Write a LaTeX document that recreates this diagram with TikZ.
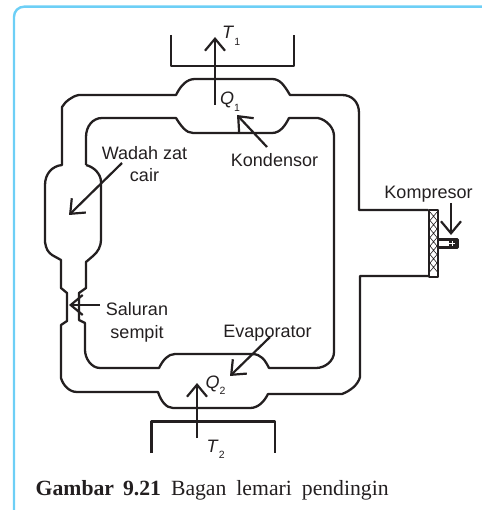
\documentclass[tikz,border=0pt]{standalone}
\usepackage{fontspec}
\setmainfont{Liberation Serif}
\setsansfont{Liberation Sans}
\usetikzlibrary{arrows.meta}
\definecolor{inkdark}{HTML}{231F20}
\definecolor{framecyan}{HTML}{6DCFF6}
\newcommand{\symsub}[2]{\textit{#1}\raisebox{-6.5pt}{\fontsize{10.5}{10.5}\selectfont #2}}
\tikzset{
  pipe/.style={draw=inkdark, line width=2.3pt, line join=round},
  flow/.style={draw=inkdark, line width=2.2pt, -{Straight Barb[length=12pt,width=20pt,line width=2.2pt]}},
  lbl/.style={anchor=base, inner sep=0pt, text=inkdark, align=center,
    font=\sffamily\fontsize{18}{22.5}\selectfont},
}
\begin{document}
\begin{tikzpicture}[x=1pt,y=-1pt]
    \useasboundingbox (0,0) rectangle (481,510);
    \draw[framecyan, line width=2.4pt, rounded corners=10pt] (14,512) -- (14,6.7) -- (483,6.7);

    % trays
    \draw[pipe] (171,35) -- (171,66) -- (294,66) -- (294,35);
    \draw[pipe] (151.5,453) -- (151.5,421.5) -- (275,421.5) -- (275,453);

    % outer wall
    \draw[pipe] (428,210) -- (359,210) -- (359,113) .. controls (359,102) and (352,95) .. (342,95)
      -- (290,95) .. controls (284,85) and (280,79) .. (272,79) -- (195,79)
      .. controls (187,79) and (181,85) .. (176,95) -- (79,95) .. controls (72,96) and (65,102) .. (62,107) -- (62,165)
      .. controls (52,166) and (45,174) .. (45,185) -- (45,242) .. controls (46,249) and (48,252) .. (52,255)
      -- (61,260) -- (61,288) -- (67,293) -- (67,321) -- (61,325) -- (61,378)
      .. controls (63,385) and (69,392) .. (77,392) -- (158,392)
      .. controls (161,401) and (166,408) .. (173,408) -- (250,408)
      .. controls (258,408) and (264,402) .. (268,394) -- (342,394) .. controls (350,391) and (358,385) .. (360,377) -- (360,276) -- (428,276);

    % inner wall
    \draw[pipe] (86,165) -- (86,137) .. controls (86,126) and (93,118) .. (102,118) -- (176,118)
      .. controls (181,126) and (186,133) .. (193,133) -- (272,133)
      .. controls (280,133) and (285,126) .. (289,118) -- (318,118)
      .. controls (327,120) and (334,128) .. (334,136) -- (334,352)
      .. controls (334,361) and (325,368) .. (316,368) -- (269,368)
      .. controls (265,360) and (261,354) .. (252,354) -- (175,354)
      .. controls (168,354) and (163,360) .. (159,368) -- (100,368)
      .. controls (91,368) and (85,358) .. (85,350) -- (85,323) -- (79,320) -- (79,293) -- (86,288) -- (86,262)
      -- (93,256) .. controls (98,252) and (101,246) .. (101,240) -- (101,182)
      .. controls (101,174) and (94,167) .. (86,165);

    % compressor
    \draw[pipe] (429,210) rectangle (438,277);
    \foreach \ycell in {212,220.5,...,270} {
      \draw[inkdark, line width=0.6pt] (430,\ycell) -- (437,\ycell+8.5) (437,\ycell) -- (430,\ycell+8.5);
    }
    \draw[pipe] (438,239.5) rectangle (457.5,247.5);
    \fill[inkdark] (449,240) rectangle (457.5,247);
    \draw[white, line width=0.9pt] (449,243.5) -- (455,243.5) (452,241) -- (452,246);

    % free ends of the arrows
    \coordinate (t1start) at (215,105);
    \coordinate (t1tip) at (215,37);
    \coordinate (kondstart) at (267,147);
    \coordinate (kondtip) at (237,115);
    \coordinate (wadahstart) at (122,163);
    \coordinate (wadahtip) at (69,215);
    \coordinate (salstart) at (100,305);
    \coordinate (saltip) at (69,305);
    \coordinate (kompstart) at (451,203);
    \coordinate (komptip) at (451,235);
    \coordinate (evapstart) at (270,337);
    \coordinate (evaptip) at (230,376);
    \coordinate (t2start) at (197,438);
    \coordinate (t2tip) at (197,383);

    \draw[flow] (t1start) -- (t1tip);
    \draw[flow] (kondstart) -- (kondtip);
    \draw[flow] (wadahstart) -- (wadahtip);
    \draw[flow] (salstart) -- (saltip);
    \draw[flow] (kompstart) -- (komptip);
    \draw[flow] (evapstart) -- (evaptip);
    \draw[flow] (t2start) -- (t2tip);

    % labels
    \node[lbl] (wadah) at (144.5,182) {Wadah zat\\cair};
    \node[lbl] (kondensor) at (274.5,167) {Kondensor};
    \node[lbl] (kompresor) at (428.5,199) {Kompresor};
    \node[lbl] (saluran) at (137,338) {Saluran\\sempit};
    \node[lbl] (evaporator) at (267.5,337) {Evaporator};
    \node[lbl, anchor=base west] (t1) at (222,39) {\symsub{T}{1}};
    \node[lbl, anchor=base west] (q1) at (220,105) {\symsub{Q}{1}};
    \node[lbl, anchor=base west] (q2) at (205.5,388) {\symsub{Q}{2}};
    \node[lbl, anchor=base west] (t2) at (206.5,452) {\symsub{T}{2}};
    \node[anchor=base west, inner sep=0pt, text=inkdark, font=\fontsize{21.7}{24}\selectfont] (caption) at (35.5,495)
      {\textbf{Gambar\hspace{9pt}9.21}\hspace{10pt}Bagan\hspace{10pt}lemari\hspace{10pt}pendingin};
  \end{tikzpicture}
\end{document}
